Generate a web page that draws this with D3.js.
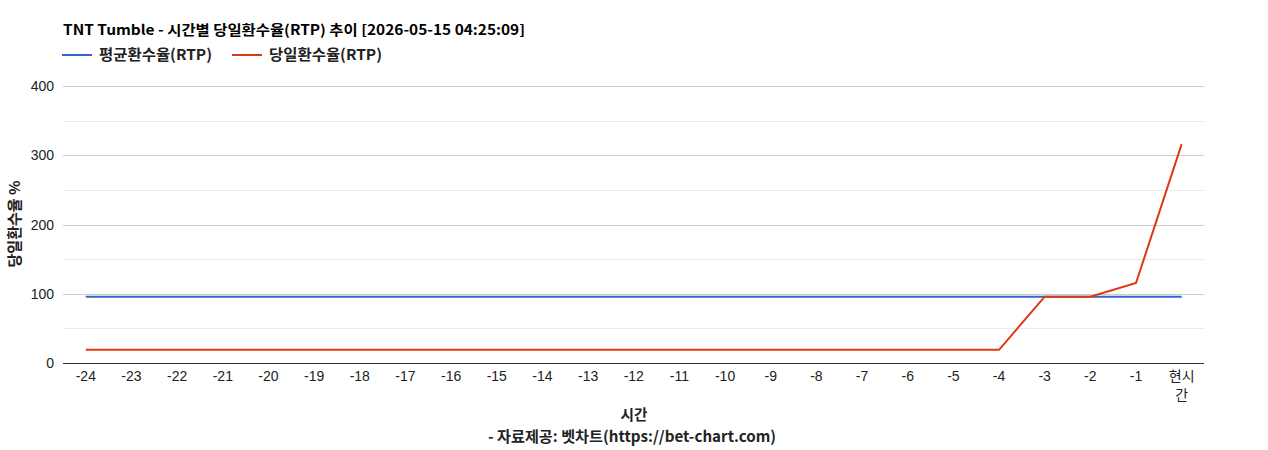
<!DOCTYPE html>
<html>
<head>
<meta charset="utf-8">
<script src="https://cdn.jsdelivr.net/npm/d3@7"></script>
<style>
  body { margin: 0; background: #fff; }
  text { font-family: "Liberation Sans", Arial, "Noto Sans CJK KR", sans-serif; }
  text.kr { font-family: "Noto Sans CJK KR", "Liberation Sans", sans-serif; }
</style>
</head>
<body>
<div id="chart"></div>
<script>
// 시간 라벨
const hours = ["-24","-23","-22","-21","-20","-19","-18","-17","-16","-15","-14","-13",
  "-12","-11","-10","-9","-8","-7","-6","-5","-4","-3","-2","-1","현시간"];

// 평균환수율, 당일환수율
const avgRtp = [95.8,95.8,95.8,95.8,95.8,95.8,95.8,95.8,95.8,95.8,95.8,95.8,
  95.8,95.8,95.8,95.8,95.8,95.8,95.8,95.8,95.8,95.8,95.8,95.8,95.8];
const dayRtp = [19,19,19,19,19,19,19,19,19,19,19,19,
  19,19,19,19,19,19,19,19,19,95.8,95.8,115.5,316];

const yTicks = [0, 100, 200, 300, 400];
const yMinor = [50, 150, 250, 350];

const seriesList = [
  { name: "평균환수율(RTP)", values: avgRtp, color: "#3366cc" },
  { name: "당일환수율(RTP)", values: dayRtp, color: "#dc3912" }
];

const W = 1268, H = 450;
const plotL = 63, plotR = 1204, plotT = 86, plotB = 363;

const svg = d3.select("#chart").append("svg")
    .attr("width", W)
    .attr("height", H);

const x = d3.scaleBand().domain(hours).range([plotL, plotR + 0.5]);
const y = d3.scaleLinear().domain([0, 400]).range([plotB, plotT]);

// 보조 그리드
svg.append("g").selectAll("line")
    .data(yMinor)
    .enter().append("line")
    .attr("x1", plotL).attr("x2", plotR)
    .attr("y1", d => Math.round(y(d)) + 0.5)
    .attr("y2", d => Math.round(y(d)) + 0.5)
    .attr("stroke", "#ebebeb");

// 주 그리드
svg.append("g").selectAll("line")
    .data(yTicks.filter(d => d > 0))
    .enter().append("line")
    .attr("x1", plotL).attr("x2", plotR)
    .attr("y1", d => Math.round(y(d)) + 0.5)
    .attr("y2", d => Math.round(y(d)) + 0.5)
    .attr("stroke", "#cccccc");

// y 축 라벨
svg.append("g").selectAll("text")
    .data(yTicks)
    .enter().append("text")
    .attr("x", plotL - 9)
    .attr("y", d => y(d) + 5)
    .attr("text-anchor", "end")
    .attr("font-size", 14)
    .attr("fill", "#222")
    .text(d => d);

// x 축 라벨
const xl = svg.append("g").selectAll("text")
    .data(hours)
    .enter().append("text")
    .attr("x", d => x(d) + x.bandwidth() / 2)
    .attr("y", 381)
    .attr("text-anchor", "middle")
    .attr("font-size", 14)
    .attr("fill", "#222");

xl.each(function(d) {
    const t = d3.select(this);
    if (d === "현시간") {
        t.attr("class", "kr");
        t.append("tspan").attr("x", x(d) + x.bandwidth() / 2).text("현시");
        t.append("tspan").attr("x", x(d) + x.bandwidth() / 2).attr("dy", 19).text("간");
    } else {
        t.text(d);
    }
});

// 선
const line = d3.line()
    .x((d, i) => x(hours[i]) + x.bandwidth() / 2)
    .y(d => y(d));

svg.append("g").selectAll("path")
    .data(seriesList)
    .enter().append("path")
    .attr("d", d => line(d.values))
    .attr("fill", "none")
    .attr("stroke", d => d.color)
    .attr("stroke-width", 2);

// 기준선
svg.append("line")
    .attr("x1", plotL).attr("x2", plotR)
    .attr("y1", plotB + 0.5).attr("y2", plotB + 0.5)
    .attr("stroke", "#333");

// 제목
svg.append("text")
    .attr("class", "kr")
    .attr("x", plotL)
    .attr("y", 35)
    .attr("font-size", 14)
    .attr("font-weight", "bold")
    .attr("fill", "#000")
    .attr("textLength", 462)
    .attr("lengthAdjust", "spacingAndGlyphs")
    .text("TNT Tumble - 시간별 당일환수율(RTP) 추이 [2026-05-15 04:25:09]");

// 범례
const legendX = [62, 232];
const lg = svg.append("g").selectAll("g")
    .data(seriesList)
    .enter().append("g")
    .attr("transform", (d, i) => `translate(${legendX[i]},55)`);

lg.append("line")
    .attr("x1", 0).attr("x2", 30)
    .attr("stroke", d => d.color)
    .attr("stroke-width", 2);

lg.append("text")
    .attr("class", "kr")
    .attr("x", 37)
    .attr("y", 5)
    .attr("font-size", 15)
    .attr("font-weight", "bold")
    .attr("fill", "#222")
    .attr("textLength", 113)
    .attr("lengthAdjust", "spacingAndGlyphs")
    .text(d => d.name);

// 축 제목
svg.append("text")
    .attr("class", "kr")
    .attr("transform", "translate(20,224) rotate(-90)")
    .attr("text-anchor", "middle")
    .attr("font-size", 15)
    .attr("font-weight", "bold")
    .attr("fill", "#222")
    .attr("textLength", 87)
    .attr("lengthAdjust", "spacingAndGlyphs")
    .text("당일환수율 %");

svg.append("text")
    .attr("class", "kr")
    .attr("x", 634)
    .attr("y", 420)
    .attr("text-anchor", "middle")
    .attr("font-size", 15)
    .attr("font-weight", "bold")
    .attr("fill", "#222")
    .attr("textLength", 27)
    .attr("lengthAdjust", "spacingAndGlyphs")
    .text("시간");

svg.append("text")
    .attr("class", "kr")
    .attr("x", 632)
    .attr("y", 442)
    .attr("text-anchor", "middle")
    .attr("font-size", 15)
    .attr("font-weight", "bold")
    .attr("fill", "#222")
    .attr("textLength", 288)
    .attr("lengthAdjust", "spacingAndGlyphs")
    .text("- 자료제공: 벳차트(https://bet-chart.com)");
</script>
</body>
</html>
